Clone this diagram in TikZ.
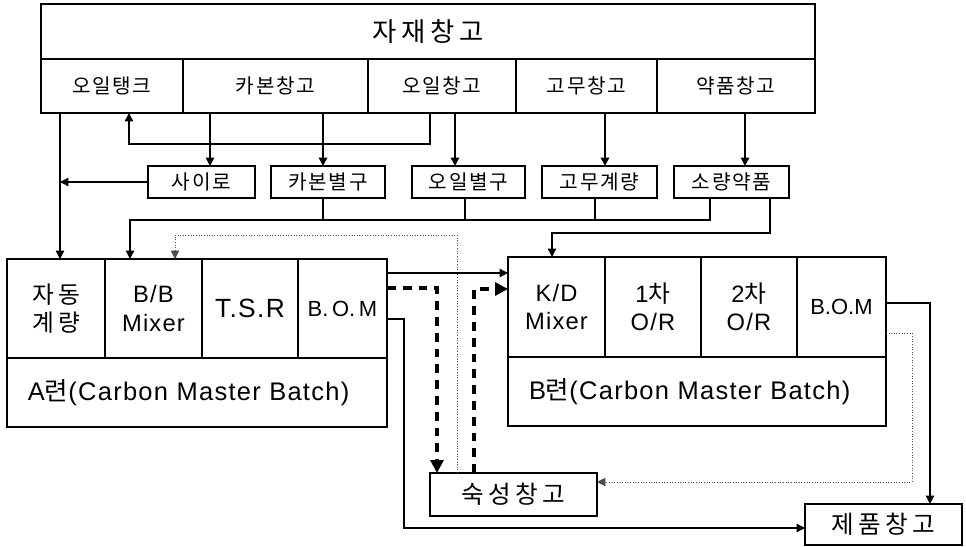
\documentclass[tikz,border=0pt]{standalone}
\usepackage{fontspec}
\setmainfont{Liberation Sans}[LetterSpace=5]
\newfontfamily\tight{Liberation Sans}
\newfontfamily\kr{Noto Sans CJK KR}[LetterSpace=8]
\newfontfamily\krwide{Noto Sans CJK KR}[LetterSpace=18]
\usetikzlibrary{arrows.meta, positioning}

\begin{document}
\begin{tikzpicture}[
    x=0.02cm, y=-0.02cm,
    >={Triangle[length=1.7mm, width=1.7mm]},
    box/.style={draw, line width=0.9pt, inner sep=0pt, outer sep=0pt, align=center},
    whbox/.style={box, minimum height=1.08cm, font=\kr\fontsize{11.5}{14}\selectfont},
    binbox/.style={box, minimum height=0.64cm, font=\kr\fontsize{11.5}{14}\selectfont},
    cellbox/.style={box, font=\fontsize{13.5}{16}\selectfont},
    bombox/.style={box, font=\tight\fontsize{12.5}{14}\selectfont},
    linebox/.style={box, minimum height=1.38cm, inner xsep=0.42cm, align=left, font=\fontsize{14.5}{16}\selectfont},
    storebox/.style={box, font=\krwide\fontsize{14}{16}\selectfont},
    flow/.style={->, line width=0.8pt},
    bulk/.style={-{Triangle[length=2.6mm, width=2.6mm]}, line width=2.2pt, dash pattern=on 5pt off 4pt},
    back/.style={->, line width=0.5pt, densely dotted, black!70}
  ]
  \useasboundingbox (0,0) rectangle (966,547);

  % Material warehouse
  \node[box, minimum width=15.48cm, minimum height=1.1cm, anchor=north west, font=\krwide\fontsize{15}{18}\selectfont] (stock) at (41,4) {자재창고};
  \node[whbox, minimum width=2.84cm, anchor=north west] (tank) at (stock.south west) {오일탱크};
  \node[whbox, minimum width=3.70cm, right=0pt of tank] (carbonwh) {카본창고};
  \node[whbox, minimum width=2.96cm, right=0pt of carbonwh] (oilwh) {오일창고};
  \node[whbox, minimum width=2.82cm, right=0pt of oilwh] (rubberwh) {고무창고};
  \node[whbox, minimum width=3.16cm, right=0pt of rubberwh] (chemwh) {약품창고};

  % Weighing row
  \node[binbox, minimum width=2.14cm, anchor=north west] (silo) at (148,166) {사이로};
  \node[binbox, minimum width=2.28cm, anchor=north west] (carbonbin) at (271,166) {카본별구};
  \node[binbox, minimum width=2.26cm, anchor=north west] (oilbin) at (412,166) {오일별구};
  \node[binbox, minimum width=2.30cm, anchor=north west] (rubberbin) at (542,166) {고무계량};
  \node[binbox, minimum width=2.30cm, anchor=north west] (chembin) at (674,166) {소량약품};

  % A line
  \node[cellbox, minimum width=1.96cm, minimum height=1.98cm, anchor=north west] (aauto) at (7,259) {{\krwide 자동}\\{\krwide 계량}};
  \node[cellbox, minimum width=1.94cm, minimum height=1.98cm, right=0pt of aauto] (amixer) {B/B\\Mixer};
  \node[cellbox, minimum width=1.92cm, minimum height=1.98cm, right=0pt of amixer, font=\fontsize{15}{16}\selectfont] (atsr) {T.S.R};
  \node[bombox, minimum width=1.78cm, minimum height=1.98cm, right=0pt of atsr] (abom) {B.\,O.\,M};
  \node[linebox, text width=6.76cm, anchor=north west] (aline) at (aauto.south west) {A{\kr 련}(Carbon Master Batch)};

  % B line
  \node[cellbox, minimum width=1.94cm, minimum height=2cm, anchor=north west] (bmixer) at (508,257) {K/D\\Mixer};
  \node[cellbox, minimum width=1.92cm, minimum height=2cm, right=0pt of bmixer] (bor1) {1{\krwide 차}\\O/R};
  \node[cellbox, minimum width=1.92cm, minimum height=2cm, right=0pt of bor1] (bor2) {2{\krwide 차}\\O/R};
  \node[bombox, minimum width=1.78cm, minimum height=2cm, right=0pt of bor2] (bbom) {B.O.M};
  \node[linebox, text width=6.72cm, anchor=north west] (bline) at (bmixer.south west) {B{\kr 련}(Carbon Master Batch)};

  % Stores
  \node[storebox, minimum width=3.34cm, minimum height=0.86cm, anchor=north west] (aging) at (430,473) {숙성창고};
  \node[storebox, minimum width=3.14cm, minimum height=0.82cm, anchor=north west] (product) at (805,504) {제품창고};

  % Warehouse to weighing
  \draw[flow] (tank.south -| 60,0) -- (aauto.north -| 60,0);
  \draw[flow] (silo.west) -- (silo.west -| 60,0);
  \draw[flow] (oilwh.south -| 430,0) -- ++(0,31) -| (tank.south -| 129,0);
  \draw[flow] (carbonwh.south -| 210,0) -- (silo.north -| 210,0);
  \draw[flow] (carbonwh.south -| 323,0) -- (carbonbin.north -| 323,0);
  \draw[flow] (oilwh.south -| 455,0) -- (oilbin.north -| 455,0);
  \draw[flow] (rubberwh.south -| 605,0) -- (rubberbin.north -| 605,0);
  \draw[flow] (chemwh.south -| 745,0) -- (chembin.north -| 745,0);

  % Weighing to mixers
  \draw[line width=0.8pt] (carbonbin.south -| 323,0) -- ++(0,22);
  \draw[line width=0.8pt] (oilbin.south -| 465,0) -- ++(0,22);
  \draw[line width=0.8pt] (rubberbin.south -| 595,0) -- ++(0,22);
  \draw[flow] (chembin.south -| 710,0) -- ++(0,22) -| (amixer.north -| 130,0);
  \draw[flow] (chembin.south -| 770,0) -- ++(0,35) -| (bmixer.north -| 552,0);
  \draw[back] (aging.north -| 457,0) -- ++(0,-238) -| (amixer.north -| 175,0);

  % Between lines
  \draw[flow] (abom.east |- 0,273) -- (bmixer.west |- 0,273);
  \draw[bulk] (abom.east |- 0,288) -| (aging.north -| 437,0);
  \draw[bulk] (aging.north -| 474,0) |- (bmixer.west |- 0,289);
  \draw[flow] (abom.east |- 0,319) -- ++(17,0) |- (product.west |- 0,528);
  \draw[flow] (bbom.east |- 0,303) -| (product.north -| 930,0);
  \draw[back] (bbom.east |- 0,333) -- ++(26,0) |- (aging.east |- 0,482);

\end{tikzpicture}
\end{document}
